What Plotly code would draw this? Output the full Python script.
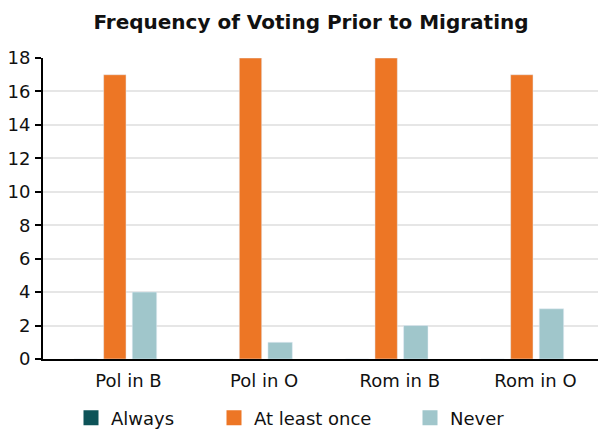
import plotly.graph_objects as go

categories = ["Pol in B", "Pol in O", "Rom in B", "Rom in O"]
always = [0, 0, 0, 0]
at_least_once = [17, 18, 18, 17]
never = [4, 1, 2, 3]
y_ticks = list(range(0, 19, 2))

series = [
    ("Always", always, "#0d5358", 0.17, -0.40, "legend"),
    ("At least once", at_least_once, "#ed7625", 0.165, -0.183, "legend2"),
    ("Never", never, "#a0c6cb", 0.18, 0.028, "legend3"),
]

FONT = "DejaVu Sans"
# page body has an 8px margin, so the figure is 8px smaller than the window
W, H = 598, 424
OFF = 8
fig = go.Figure()
for name, vals, color, w, off, lg in series:
    fig.add_trace(go.Bar(x=categories, y=vals, name=name, marker_color=color,
                         width=w, offset=off, showlegend=False))
for name, vals, color, w, off, lg in series:
    # legend swatch (larger square than the default bar icon)
    fig.add_trace(go.Scatter(x=[None], y=[None], mode="markers", name=name,
                             marker=dict(symbol="square", size=15, color=color),
                             legend=lg, showlegend=True))

leg = dict(orientation="h", xref="container", yref="container", yanchor="middle",
           y=1 - (418 - OFF) / H, xanchor="left", itemsizing="trace",
           font=dict(family=FONT, size=18, color="#111"), bgcolor="rgba(0,0,0,0)")
fig.update_layout(
    width=W, height=H,
    margin=dict(l=43 - OFF, r=0, t=58 - OFF, b=H - (359 - OFF), autoexpand=False),
    paper_bgcolor="white", plot_bgcolor="white",
    barmode="overlay", showlegend=True,
    title=dict(text="<b>Frequency of Voting Prior to Migrating</b>", xref="container", yref="container",
               x=(311 - OFF) / W, xanchor="center", y=1 - (22 - OFF) / H, yanchor="middle",
               font=dict(family=FONT, size=20, color="#111")),
    legend=dict(leg, x=(71 - OFF) / W),
    legend2=dict(leg, x=(214 - OFF) / W),
    legend3=dict(leg, x=(410 - OFF) / W),
    xaxis=dict(type="category", range=[-0.63, 3.52], showgrid=False, ticks="", automargin=False,
               showline=True, linecolor="black", linewidth=2,
               tickfont=dict(family=FONT, size=18, color="#111"), ticklabelstandoff=4),
    yaxis=dict(range=[0, 18], tickvals=y_ticks, showgrid=True, gridcolor="#e6e6e6", gridwidth=1.5,
               showline=True, linecolor="black", linewidth=2, ticks="outside", ticklen=6,
               tickwidth=2, tickcolor="black", zeroline=False, automargin=False,
               tickfont=dict(family=FONT, size=18, color="#111"), ticklabelstandoff=1),
)
fig.write_html("out.html")
